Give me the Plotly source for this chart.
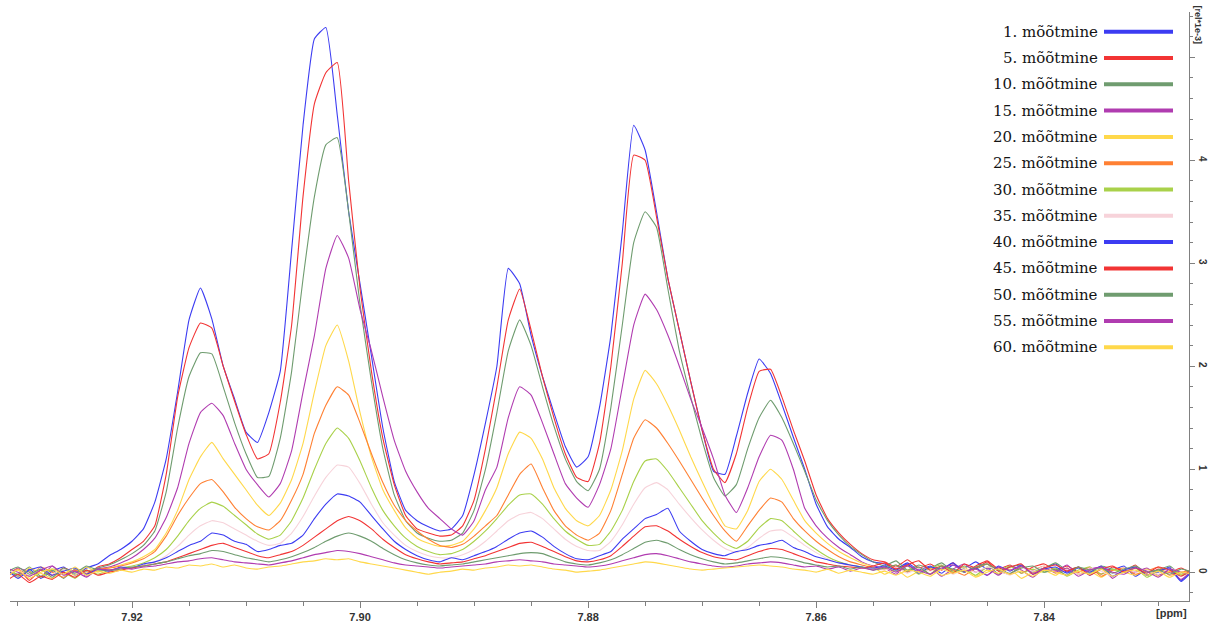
import plotly.graph_objects as go

# chemical shift grid (ppm)
ppm = [
    7.931, 7.930, 7.929, 7.928, 7.927, 7.926, 7.925, 7.924, 7.923, 7.922,
    7.921, 7.920, 7.919, 7.918, 7.917, 7.916, 7.915, 7.914, 7.913, 7.912,
    7.911, 7.910, 7.909, 7.908, 7.907, 7.906, 7.905, 7.904, 7.903, 7.902,
    7.901, 7.900, 7.899, 7.898, 7.897, 7.896, 7.895, 7.894, 7.893, 7.892,
    7.891, 7.890, 7.889, 7.888, 7.887, 7.886, 7.885, 7.884, 7.883, 7.882,
    7.881, 7.880, 7.879, 7.878, 7.877, 7.876, 7.875, 7.874, 7.873, 7.872,
    7.871, 7.870, 7.869, 7.868, 7.867, 7.866, 7.865, 7.864, 7.863, 7.862,
    7.861, 7.860, 7.859, 7.858, 7.857, 7.856, 7.855, 7.854, 7.853, 7.852,
    7.851, 7.850, 7.849, 7.848, 7.847, 7.846, 7.845, 7.844, 7.843, 7.842,
    7.841, 7.840, 7.839, 7.838, 7.837, 7.836, 7.835, 7.834, 7.833, 7.832,
    7.831, 7.830, 7.829, 7.828, 7.827,
]

names = ["1. mõõtmine", "5. mõõtmine", "10. mõõtmine", "15. mõõtmine", "20. mõõtmine",
         "25. mõõtmine", "30. mõõtmine", "35. mõõtmine", "40. mõõtmine", "45. mõõtmine",
         "50. mõõtmine", "55. mõõtmine", "60. mõõtmine"]

colors = ["#3c3cf2", "#f23434", "#6f9c6f", "#b03cb0", "#ffd84a", "#ff8033", "#a9d14a",
          "#f7d3da", "#3c3cf2", "#f23434", "#6f9c6f", "#b03cb0", "#ffd84a"]

# intensities [rel*1e-3]
s01 = [0.02, -0.04, 0.03, -0.06, 0.01, 0.05, -0.03, 0.04, 0.08,
       0.16, 0.22, 0.30, 0.42, 0.68, 1.10, 1.75, 2.45, 2.76, 2.46, 2.00,
       1.68, 1.36, 1.26, 1.55, 1.95, 3.13, 4.34, 5.18, 5.29, 4.44,
       3.50, 2.80, 2.10, 1.40, 0.88, 0.60, 0.50, 0.44, 0.40, 0.42,
       0.55, 0.95, 1.45, 2.00, 2.95, 2.80, 2.30, 1.90, 1.55, 1.22,
       1.02, 1.12, 1.60, 2.30, 3.30, 4.34, 4.10, 3.50, 2.85, 2.35,
       1.85, 1.38, 0.98, 0.95, 1.32, 1.74, 2.07, 1.93, 1.63, 1.31,
       1.00, 0.66, 0.44, 0.32, 0.24, 0.15, 0.10,
       0.08, 0.03, 0.09, 0.02, 0.06, -0.01, 0.07, 0.04, 0.10, 0.03,
       0.05, -0.02, 0.06, 0.01, 0.04, 0.08, 0.00, 0.05, -0.03, 0.04,
       0.02, 0.06, -0.04, 0.03, 0.00, 0.05, -0.08, 0.02]
s05 = [-0.05, 0.03, -0.08, 0.02, -0.03, 0.04, 0.00, -0.02, 0.05,
       0.08, 0.14, 0.22, 0.30, 0.45, 0.95, 1.70, 2.18, 2.42, 2.37, 2.00,
       1.66, 1.34, 1.10, 1.15, 1.65, 2.40, 3.65, 4.55, 4.85, 4.95,
       3.80, 2.75, 1.95, 1.30, 0.85, 0.55, 0.42, 0.38, 0.35, 0.36,
       0.45, 0.70, 1.20, 1.80, 2.45, 2.75, 2.35, 1.90, 1.50, 1.15,
       0.92, 0.88, 1.25, 2.00, 3.00, 4.05, 4.00, 3.45, 2.85, 2.35,
       1.85, 1.38, 1.00, 0.87, 1.15, 1.60, 1.95, 1.97, 1.70, 1.38,
       1.08, 0.75, 0.52, 0.38, 0.27, 0.18, 0.12,
       0.10, 0.05, 0.12, 0.04, 0.08, 0.02, 0.09, 0.00, 0.06, 0.11,
       0.03, 0.07, -0.01, 0.05, 0.08, 0.02, 0.06, 0.00, 0.04, -0.02,
       0.05, 0.01, 0.07, -0.03, 0.03, 0.00, 0.04, -0.02]
s10 = [0.03, -0.02, 0.05, -0.04, 0.02, -0.06, 0.03, 0.01, 0.04,
       0.07, 0.12, 0.18, 0.26, 0.40, 0.78, 1.40, 1.90, 2.13, 2.12, 1.80,
       1.45, 1.15, 0.92, 0.93, 1.30, 1.95, 2.85, 3.65, 4.15, 4.22,
       3.50, 2.60, 1.85, 1.20, 0.75, 0.50, 0.38, 0.33, 0.30, 0.31,
       0.38, 0.60, 1.00, 1.55, 2.15, 2.45, 2.20, 1.80, 1.42, 1.10,
       0.88, 0.79, 1.00, 1.60, 2.40, 3.20, 3.50, 3.35, 2.75, 2.15,
       1.70, 1.28, 0.92, 0.74, 0.85, 1.20, 1.50, 1.67, 1.50, 1.25,
       0.98, 0.70, 0.50, 0.36, 0.25, 0.17, 0.10,
       0.06, 0.11, 0.02, 0.07, 0.04, 0.09, 0.01, 0.06, 0.03, 0.08,
       -0.02, 0.05, 0.07, 0.00, 0.04, 0.09, 0.02, 0.05, -0.01, 0.06,
       0.03, 0.00, 0.05, -0.03, 0.02, 0.06, -0.02, 0.03]
s15 = [-0.03, 0.04, 0.00, -0.05, 0.06, -0.02, 0.02, -0.04, 0.03,
       0.05, 0.09, 0.14, 0.22, 0.33, 0.53, 0.82, 1.25, 1.55, 1.64, 1.52,
       1.25, 1.00, 0.85, 0.73, 0.86, 1.18, 1.75, 2.30, 2.95, 3.27,
       3.05, 2.55, 2.15, 1.70, 1.28, 0.98, 0.78, 0.62, 0.52, 0.42,
       0.36, 0.50, 0.80, 1.02, 1.50, 1.80, 1.72, 1.45, 1.15, 0.86,
       0.72, 0.63, 0.85, 1.20, 1.80, 2.40, 2.70, 2.55, 2.30, 2.00,
       1.68, 1.40, 1.10, 0.75, 0.58, 0.82, 1.12, 1.33, 1.28, 1.00,
       0.62, 0.45, 0.33, 0.24, 0.17, 0.10, 0.06,
       0.04, -0.02, 0.07, 0.01, 0.05, -0.04, 0.03, 0.08, 0.00, 0.04,
       -0.03, 0.06, 0.02, -0.05, 0.04, 0.01, 0.07, -0.02, 0.03, 0.05,
       -0.06, 0.02, 0.00, 0.04, -0.03, 0.01, -0.07, 0.02]
s20 = [0.02, -0.05, 0.04, -0.01, -0.06, 0.03, -0.03, 0.05, 0.00,
       0.04, 0.07, 0.10, 0.15, 0.22, 0.38, 0.60, 0.90, 1.12, 1.26, 1.10,
       0.95, 0.80, 0.65, 0.55, 0.67, 0.90, 1.25, 1.75, 2.20, 2.40,
       2.05, 1.55, 1.12, 0.80, 0.60, 0.43, 0.33, 0.28, 0.25, 0.26,
       0.30, 0.42, 0.60, 0.82, 1.15, 1.36, 1.30, 1.10, 0.82, 0.62,
       0.50, 0.45, 0.55, 0.80, 1.18, 1.68, 1.96, 1.83, 1.62, 1.38,
       1.12, 0.88, 0.65, 0.45, 0.42, 0.60, 0.88, 1.00, 0.90, 0.70,
       0.50, 0.38, 0.28, 0.20, 0.14, 0.09, 0.05,
       -0.02, 0.03, -0.05, 0.01, 0.04, -0.03, 0.00, 0.05, -0.04, 0.02,
       -0.01, 0.03, -0.06, 0.00, 0.02, -0.03, 0.04, -0.02, 0.01, -0.05,
       0.02, 0.00, -0.03, 0.03, -0.04, 0.01, -0.02, 0.00]
s25 = [-0.02, 0.03, -0.04, 0.05, 0.00, -0.05, 0.02, -0.01, 0.03,
       0.04, 0.06, 0.09, 0.13, 0.20, 0.35, 0.55, 0.72, 0.86, 0.90, 0.78,
       0.63, 0.52, 0.44, 0.41, 0.50, 0.70, 0.95, 1.35, 1.62, 1.80,
       1.72, 1.45, 1.15, 0.87, 0.65, 0.50, 0.40, 0.32, 0.26, 0.24,
       0.27, 0.35, 0.45, 0.55, 0.75, 0.95, 1.05, 0.82, 0.60, 0.45,
       0.36, 0.31, 0.38, 0.60, 0.95, 1.30, 1.48, 1.40, 1.25, 1.08,
       0.90, 0.72, 0.55, 0.40, 0.30, 0.45, 0.60, 0.72, 0.68, 0.52,
       0.40, 0.30, 0.22, 0.15, 0.10, 0.07, 0.04,
       0.03, 0.07, 0.00, 0.05, -0.02, 0.06, 0.02, -0.03, 0.04, 0.08,
       0.01, -0.02, 0.05, 0.02, 0.06, -0.01, 0.03, 0.00, 0.05, -0.04,
       0.02, 0.04, -0.02, 0.01, 0.05, -0.03, 0.00, 0.02]
s30 = [0.04, -0.03, 0.01, -0.05, 0.03, 0.00, -0.06, 0.02, -0.02,
       0.02, 0.04, 0.06, 0.09, 0.14, 0.22, 0.35, 0.50, 0.62, 0.68, 0.64,
       0.55, 0.46, 0.37, 0.32, 0.36, 0.50, 0.72, 1.00, 1.25, 1.40,
       1.30, 1.08, 0.82, 0.60, 0.45, 0.33, 0.25, 0.20, 0.17, 0.18,
       0.22, 0.30, 0.40, 0.52, 0.65, 0.75, 0.76, 0.66, 0.52, 0.40,
       0.32, 0.26, 0.27, 0.40, 0.60, 0.88, 1.08, 1.10, 0.98, 0.82,
       0.66, 0.50, 0.38, 0.28, 0.23, 0.30, 0.43, 0.52, 0.50, 0.40,
       0.30, 0.22, 0.15, 0.10, 0.07, 0.05, 0.03,
       0.05, 0.01, 0.06, -0.02, 0.04, 0.07, 0.00, 0.03, -0.03, 0.05,
       0.02, 0.06, -0.01, 0.03, 0.00, 0.04, -0.04, 0.02, 0.05, -0.02,
       0.03, 0.00, 0.04, -0.05, 0.01, 0.03, -0.03, 0.01]
s35 = [-0.01, 0.02, -0.04, 0.04, -0.02, 0.03, 0.00, -0.03, 0.02,
       0.02, 0.03, 0.05, 0.07, 0.10, 0.16, 0.25, 0.36, 0.45, 0.50, 0.48,
       0.42, 0.36, 0.30, 0.26, 0.28, 0.38, 0.54, 0.74, 0.92, 1.04,
       1.02, 0.86, 0.66, 0.48, 0.36, 0.26, 0.20, 0.16, 0.14, 0.14,
       0.17, 0.22, 0.30, 0.40, 0.50, 0.56, 0.58, 0.52, 0.42, 0.32,
       0.25, 0.21, 0.21, 0.30, 0.46, 0.66, 0.82, 0.87, 0.80, 0.66,
       0.53, 0.41, 0.31, 0.23, 0.19, 0.24, 0.33, 0.40, 0.41, 0.34,
       0.26, 0.19, 0.13, 0.09, 0.06, 0.04, 0.03,
       0.02, 0.05, -0.01, 0.04, 0.01, 0.06, -0.02, 0.03, 0.00, 0.05,
       0.02, -0.03, 0.04, 0.01, 0.06, 0.00, 0.03, -0.02, 0.04, 0.01,
       -0.04, 0.03, 0.00, 0.02, -0.02, 0.04, 0.00, -0.01]
s40 = [0.03, -0.06, 0.02, 0.05, -0.03, 0.01, 0.04, -0.02, 0.03,
       0.01, 0.05, 0.04, 0.08, 0.10, 0.14, 0.20, 0.26, 0.30, 0.38, 0.36,
       0.30, 0.27, 0.20, 0.22, 0.26, 0.28, 0.36, 0.52, 0.66, 0.76,
       0.74, 0.68, 0.55, 0.42, 0.30, 0.22, 0.16, 0.12, 0.10, 0.14,
       0.12, 0.16, 0.20, 0.25, 0.32, 0.38, 0.40, 0.34, 0.25, 0.18,
       0.13, 0.12, 0.16, 0.20, 0.32, 0.42, 0.52, 0.56, 0.62, 0.40,
       0.30, 0.22, 0.18, 0.16, 0.20, 0.22, 0.26, 0.28, 0.31, 0.24,
       0.20, 0.15, 0.12, 0.09, 0.07, 0.05, 0.04,
       0.06, 0.02, 0.08, -0.01, 0.05, 0.03, 0.09, 0.00, 0.04, -0.03,
       0.06, 0.01, 0.07, -0.02, 0.03, 0.05, -0.01, 0.04, 0.00, 0.06,
       -0.04, 0.02, 0.05, -0.03, 0.01, 0.04, -0.09, 0.01]
s45 = [-0.08, -0.02, -0.10, -0.04, -0.07, 0.00, -0.05, 0.02, -0.03,
       0.00, 0.02, 0.04, 0.06, 0.08, 0.10, 0.14, 0.18, 0.22, 0.26, 0.28,
       0.24, 0.20, 0.16, 0.14, 0.17, 0.20, 0.26, 0.34, 0.42, 0.50,
       0.54, 0.50, 0.42, 0.32, 0.24, 0.17, 0.13, 0.10, 0.08, 0.09,
       0.10, 0.13, 0.16, 0.20, 0.24, 0.28, 0.29, 0.25, 0.20, 0.15,
       0.11, 0.10, 0.12, 0.16, 0.25, 0.35, 0.44, 0.45, 0.40, 0.32,
       0.25, 0.19, 0.15, 0.13, 0.12, 0.16, 0.20, 0.23, 0.22, 0.18,
       0.14, 0.10, 0.08, 0.06, 0.05, 0.04, 0.06,
       0.09, 0.03, 0.07, 0.11, 0.02, 0.06, -0.01, 0.08, 0.04, 0.10,
       0.01, 0.05, 0.08, -0.02, 0.04, 0.07, 0.01, 0.05, -0.03, 0.03,
       0.06, 0.00, 0.04, -0.01, 0.05, 0.02, -0.04, 0.03]
s50 = [0.00, 0.05, -0.02, 0.03, -0.05, 0.04, -0.01, 0.06, 0.02,
       0.02, 0.03, 0.05, 0.06, 0.08, 0.10, 0.13, 0.16, 0.18, 0.21, 0.20,
       0.17, 0.14, 0.12, 0.10, 0.12, 0.15, 0.19, 0.24, 0.30, 0.35,
       0.38, 0.35, 0.30, 0.23, 0.17, 0.12, 0.09, 0.07, 0.06, 0.07,
       0.08, 0.10, 0.12, 0.14, 0.16, 0.18, 0.19, 0.18, 0.14, 0.10,
       0.08, 0.07, 0.09, 0.12, 0.17, 0.23, 0.29, 0.31, 0.28, 0.22,
       0.17, 0.13, 0.10, 0.08, 0.09, 0.11, 0.13, 0.15, 0.14, 0.12,
       0.09, 0.07, 0.05, 0.06, 0.03, 0.05, 0.02,
       0.04, 0.07, 0.01, 0.05, -0.02, 0.06, 0.03, 0.00, 0.05, 0.08,
       0.02, -0.01, 0.04, 0.06, 0.00, 0.03, -0.03, 0.05, 0.02, 0.04,
       -0.01, 0.03, 0.06, 0.00, 0.02, -0.02, 0.03, 0.00]
s55 = [0.04, 0.00, -0.04, 0.02, 0.06, -0.03, 0.01, -0.05, 0.03,
       0.02, 0.04, 0.03, 0.05, 0.06, 0.08, 0.10, 0.11, 0.13, 0.14, 0.12,
       0.10, 0.09, 0.08, 0.07, 0.09, 0.11, 0.14, 0.17, 0.19, 0.21,
       0.20, 0.18, 0.15, 0.12, 0.09, 0.07, 0.06, 0.05, 0.04, 0.05,
       0.06, 0.07, 0.08, 0.10, 0.11, 0.12, 0.11, 0.10, 0.08, 0.07,
       0.06, 0.05, 0.06, 0.08, 0.11, 0.14, 0.17, 0.18, 0.16, 0.13,
       0.10, 0.08, 0.06, 0.05, 0.06, 0.08, 0.09, 0.10, 0.09, 0.07,
       0.05, 0.06, 0.03, 0.05, 0.01, 0.04, 0.02,
       0.05, 0.00, 0.06, 0.02, -0.02, 0.04, 0.07, 0.01, 0.03, -0.03,
       0.05, 0.02, 0.06, -0.01, 0.03, 0.00, 0.04, -0.04, 0.02, 0.05,
       0.00, -0.02, 0.04, 0.01, -0.05, 0.03, 0.00, -0.02]
s60 = [-0.04, 0.02, -0.06, 0.00, 0.03, -0.02, 0.05, -0.03, 0.01,
       -0.01, 0.02, 0.00, 0.03, 0.02, 0.05, 0.04, 0.07, 0.06, 0.08, 0.05,
       0.07, 0.04, 0.03, 0.05, 0.06, 0.08, 0.10, 0.11, 0.13, 0.12,
       0.13, 0.10, 0.08, 0.06, 0.04, 0.02, 0.00, -0.02, 0.00, 0.01,
       0.03, 0.02, 0.04, 0.05, 0.07, 0.06, 0.07, 0.05, 0.03, 0.02,
       0.00, 0.01, 0.02, 0.04, 0.06, 0.08, 0.10, 0.09, 0.07, 0.05,
       0.03, 0.02, 0.03, 0.04, 0.05, 0.06, 0.07, 0.06, 0.05, 0.03,
       0.02, 0.00, 0.03, -0.01, 0.02, 0.00, -0.02,
       0.01, -0.03, 0.02, 0.00, -0.04, 0.03, -0.01, 0.02, -0.05, 0.00,
       0.03, -0.02, 0.01, -0.04, 0.02, 0.00, -0.03, 0.01, -0.02, 0.03,
       -0.04, 0.00, 0.02, -0.03, 0.01, -0.05, 0.00, -0.02]

series = [s01, s05, s10, s15, s20, s25, s30, s35, s40, s45, s50, s55, s60]

x_ticks = [7.92, 7.90, 7.88, 7.86, 7.84]
y_ticks = [0, 1, 2, 3, 4, 5]
y_ticktext = ["0", "1", "2", "3", "4", ""]

fig = go.Figure()
for name, col, ys in zip(names, colors, series):
    fig.add_trace(go.Scatter(x=ppm, y=ys, mode="lines", name=name,
                             line=dict(color=col, width=1.1, shape="spline", smoothing=0.4),
                             showlegend=False))

W, H = 1208, 622
ML, MR, MT, MB = 10, 19, 12, 21
pw, ph = W - ML - MR, H - MT - MB

axis_col = "#808080"
tick_font = dict(family="Liberation Sans, Arial, sans-serif", size=11, color="#333333",
                 weight="bold")
ytick_font = dict(family="Liberation Sans, Arial, sans-serif", size=10, color="#333333",
                  weight="bold")

fig.update_layout(
    template="none",
    width=W, height=H,
    margin=dict(l=ML, r=MR, t=MT, b=MB, pad=0),
    paper_bgcolor="white", plot_bgcolor="white",
    showlegend=False,
    xaxis=dict(range=[7.9307, 7.8273], automargin=False, showline=True, linecolor=axis_col,
               linewidth=1, mirror=False, showgrid=False, zeroline=False,
               tickmode="array", tickvals=x_ticks, ticktext=[f"{v:.2f}" for v in x_ticks],
               ticks="outside", ticklen=6, tickcolor=axis_col, tickfont=tick_font,
               minor=dict(dtick=0.005, tick0=7.92, ticks="outside", ticklen=4,
                          tickcolor=axis_col, showgrid=False)),
    yaxis=dict(range=[-0.28, 5.44], side="right", automargin=False, showline=True,
               linecolor=axis_col, linewidth=1, showgrid=False, zeroline=False,
               tickmode="array", tickvals=y_ticks, ticktext=y_ticktext, tickangle=90,
               ticks="outside", ticklen=5, tickcolor=axis_col, tickfont=ytick_font,
               ticklabelstandoff=0,
               minor=dict(dtick=0.2, tick0=0, ticks="outside", ticklen=3,
                          tickcolor=axis_col, showgrid=False)),
)

annotations = [
    dict(text="[ppm]", xref="paper", yref="paper", x=1.0, y=0, xanchor="right",
         yanchor="top", yshift=-4, showarrow=False, font=tick_font),
    dict(text="[rel*1e-3]", xref="paper", yref="paper", x=1.0, y=1.0, xanchor="left",
         yanchor="top", xshift=2, yshift=9, textangle=90, showarrow=False,
         font=dict(family="Liberation Sans, Arial, sans-serif", size=9, color="#333333",
                   weight="bold")),
]
shapes = []
# custom legend: text right-aligned, coloured bar to the right
for i, (name, col) in enumerate(zip(names, colors)):
    py = 31.7 + 26.3 * i
    yp = (H - MB - py) / ph
    annotations.append(dict(text=name, xref="paper", yref="paper",
                            x=(1100 - ML) / pw, y=yp, xanchor="right", yanchor="middle",
                            showarrow=False,
                            font=dict(family="DejaVu Serif, serif", size=15, color="#141414")))
    shapes.append(dict(type="line", xref="paper", yref="paper",
                       x0=(1104 - ML) / pw, x1=(1173 - ML) / pw, y0=yp, y1=yp,
                       line=dict(color=col, width=4)))

fig.update_layout(annotations=annotations, shapes=shapes)
fig.write_html("out.html")
